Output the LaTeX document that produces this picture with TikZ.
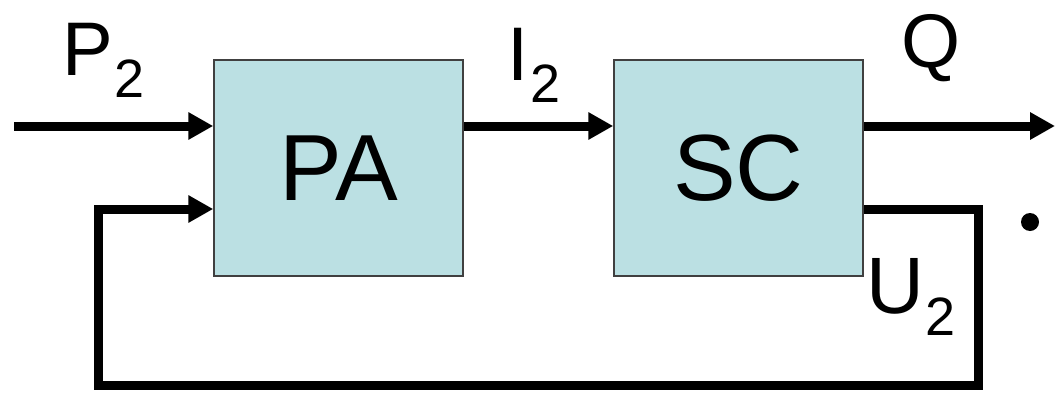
\documentclass[tikz,border=0pt]{standalone}
\usepackage{fontspec}
\setmainfont{Liberation Sans}
\usetikzlibrary{arrows.meta}

\definecolor{boxfill}{RGB}{187,224,227}
\newcommand{\lowtwo}{\kern2pt\raisebox{-22pt}{\fontsize{54}{54}\selectfont 2}}

\begin{document}
\begin{tikzpicture}[x=1pt,y=-1pt,
    block/.style={draw=black!75,line width=1.5pt,fill=boxfill,minimum width=249pt,minimum height=216pt,
        inner sep=0pt,font=\fontsize{94}{94}\selectfont},
    lbl/.style={inner sep=0pt,anchor=base west,font=\fontsize{76}{76}\selectfont},
    signal/.style={line width=9pt,-{Triangle[length=25pt,width=26pt]}}]

    \useasboundingbox (0,0) rectangle (1055,394);

    \node[block] (pa) at (338.5,168) {PA};
    \node[block] (sc) at (738.5,168) {SC};

    % input, link and output
    \coordinate (in) at (14,126);
    \coordinate (out) at (1055,126);
    \draw[signal] (in) -- (in -| pa.west);
    \draw[signal] (pa.east |- in) -- (sc.west |- in);
    \draw[signal] (sc.east |- in) -- (out);

    % Draw the feedback loop from SC back to PA
    \coordinate (fbr) at (978,385);
    \coordinate (fbl) at (98,385);
    \draw[signal] (sc.east |- 0,209) -| (fbr) -- (fbl) |- (pa.west |- 0,209);

    \node[lbl] (p2) at (62,75) {P\lowtwo};
    \node[lbl] (i2) at (507,80) {I\lowtwo};
    \node[lbl] (q) at (901,67) {Q};
    \node[lbl,font=\fontsize{80}{80}\selectfont] (u2) at (866,313) {U\lowtwo};
    \node[circle,fill=black,inner sep=0pt,minimum size=18pt] (dot) at (1030,222) {};

\end{tikzpicture}
\end{document}
